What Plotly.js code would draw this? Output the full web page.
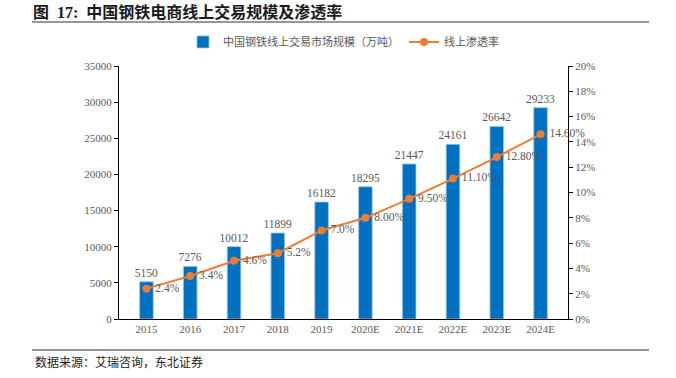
<!DOCTYPE html>
<html>
<head>
<meta charset="utf-8">
<script src="https://cdn.plot.ly/plotly-3.0.1.min.js"></script>
<style>html,body{margin:0;padding:0;background:#fff;}#chart{width:676px;height:378px;}</style>
</head>
<body>
<div id="chart"></div>
<script>
const years = ["2015","2016","2017","2018","2019","2020E","2021E","2022E","2023E","2024E"];
const volume = [5150, 7276, 10012, 11899, 16182, 18295, 21447, 24161, 26642, 29233];
const rate = [0.024, 0.034, 0.046, 0.052, 0.070, 0.080, 0.095, 0.111, 0.128, 0.146];
const rateLabels = ["2.4%","3.4%","4.6%","5.2%","7.0%","8.00%","9.50%","11.10%","12.80%","14.60%"];

const serif = '"Liberation Serif", "Noto Sans CJK SC", serif';
const gray = '#595959';

const traces = [
  {
    type: 'bar', name: '中国钢铁线上交易市场规模（万吨）',
    x: years, y: volume,
    text: volume.map(String), textposition: 'outside', cliponaxis: false, constraintext: 'none',
    textfont: {family: serif, size: 11.5, color: gray},
    marker: {color: '#0070C0', line: {color: '#9DC3E6', width: 0.8}},
    width: 0.31
  },
  {
    type: 'scatter', mode: 'lines+markers+text', name: '线上渗透率',
    x: years, y: rate, yaxis: 'y2',
    text: rateLabels.map(s => '\u00a0' + s), textposition: 'middle right', cliponaxis: false,
    textfont: {family: serif, size: 11.5, color: gray},
    line: {color: '#ED7D31', width: 2},
    marker: {color: '#ED7D31', size: 8}
  }
];

const axisFont = {family: serif, size: 11, color: gray};
const layout = {
  width: 676, height: 378,
  margin: {l: 119, r: 108, t: 66, b: 59},
  paper_bgcolor: '#fff', plot_bgcolor: '#fff',
  showlegend: true,
  legend: {orientation: 'h', x: 0.5, xanchor: 'center', y: 1.095, yanchor: 'middle',
           font: {family: serif, size: 11, color: gray}, traceorder: 'normal'},
  title: {text: '<b>图  17:  中国钢铁电商线上交易规模及渗透率</b>', x: 33/676, xanchor: 'left', xref: 'container',
          y: 1 - 12/378, yanchor: 'middle', yref: 'container',
          font: {family: serif, size: 16, color: '#1a1a1a'}},
  xaxis: {type: 'category', showline: true, linecolor: '#000', linewidth: 1, ticks: '',
          tickfont: axisFont, showgrid: false, zeroline: false},
  yaxis: {range: [0, 35000], dtick: 5000, tickformat: 'd', showline: true, linecolor: '#000', linewidth: 1,
          ticks: 'outside', ticklen: 4, tickcolor: '#000', tickfont: axisFont, showgrid: false, zeroline: false},
  yaxis2: {range: [0, 0.2], dtick: 0.02, tickformat: '.0%', overlaying: 'y', side: 'right',
           showline: true, linecolor: '#000', linewidth: 1, ticks: 'outside', ticklen: 4, tickcolor: '#000',
           tickfont: axisFont, showgrid: false, zeroline: false},
  shapes: [
    {type: 'line', xref: 'paper', yref: 'paper', x0: (32-119)/449, x1: (649-119)/449,
     y0: (319-22)/253, y1: (319-22)/253, line: {color: '#333', width: 1.2}},
    {type: 'line', xref: 'paper', yref: 'paper', x0: (32-119)/449, x1: (649-119)/449,
     y0: (319-350)/253, y1: (319-350)/253, line: {color: '#222', width: 1.2}}
  ],
  annotations: [
    {text: '数据来源：艾瑞咨询，东北证券', xref: 'paper', yref: 'paper',
     x: (33-119)/449, xanchor: 'left', y: (319-362)/253, yanchor: 'middle', showarrow: false,
     font: {family: serif, size: 12, color: '#222'}}
  ]
};

Plotly.newPlot('chart', traces, layout, {displayModeBar: false, staticPlot: true});
</script>
</body>
</html>
